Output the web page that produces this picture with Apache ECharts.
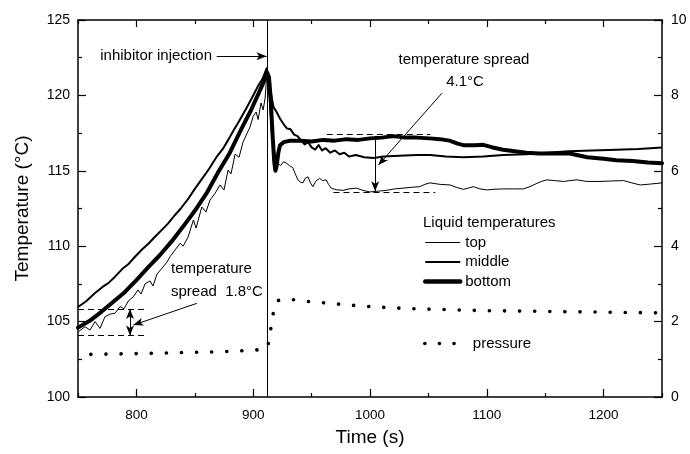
<!DOCTYPE html>
<html><head><meta charset="utf-8">
<script src="https://cdn.jsdelivr.net/npm/echarts@6/dist/echarts.min.js"></script>
<style>html,body{margin:0;padding:0;background:#fff}#c{width:690px;height:454px}</style>
</head><body><div id="c"></div>
<script>
// ---- data ----
const topTime = [750.3,756,760.3,764.6,768.8,773.1,777.4,781.7,786,789.4,793.1,797.4,801.4,804,807.4,811.7,814.2,817.7,822,826.2,828.8,833.1,837.4,840,844.2,848.8,851.1,856,859.6,863,867.3,871.6,875,878.5,881,884.5,887.9,891.3,894.8,897.3,899.9,902.5,904.2,906.7,908.5,910.2,911.8,
  913.5,915.5,918.7,921,923.5,926,928.6,931,934,936,938.3,940.5,942.6,944.5,946.9,949,951.1,953.5,956.8,959.5,962.5,964.5,966.8,971,976.7,982,988.4,994,999.8,1007,1014,1021,1028.3,1035,1042.6,1047,1051.2,1060,1068.6,1074,1080,1084,1088.6,1094,1100,1107,1114.3,1122,1131.4,1137,1142.9,1147,1151.5,1158,1165.7,1171,1177.2,1185,1194.3,1205,1217.1,1224,1231.4,1240,1250];
const topTemp = [104.33,104.66,104.44,105.0,104.55,105.32,105.5,105.55,106.0,105.85,106.37,106.65,107.1,106.83,107.5,107.7,107.36,108.16,108.55,108.95,109.3,109.75,110.2,110.0,110.6,111.74,111.2,112.6,112.27,113.06,113.5,114.06,113.73,115.05,114.8,116.1,115.9,116.9,117.5,117.9,118.6,118.9,118.4,119.5,119.03,119.83,121.55,
  120.0,117.6,116.05,115.5,115.35,115.6,115.5,115.35,115.2,114.8,114.4,114.25,114.2,114.5,114.6,114.2,113.95,114.3,114.5,114.35,114.4,114.1,113.85,113.75,113.7,113.8,113.85,113.7,113.6,113.65,113.7,113.8,113.85,113.9,113.95,114.1,114.2,114.1,114.06,113.9,113.77,113.85,113.95,113.8,113.73,113.78,113.8,113.8,113.8,113.95,114.17,114.3,114.4,114.35,114.29,114.35,114.4,114.3,114.29,114.32,114.35,114.2,114.06,114.12,114.2];

const middleTime = [750,757,764.6,771,776,781.7,788,793,798.8,805,810,815.9,822,827,833.1,838,844,850,856,862,868.5,874,879,883,888,894.5,899,904,908,911.5,
  913,915,917.3,920,923,926,929,932,935,938,941,944,947,950,953,956,959,962,966,970,974,978,982,988,995,1003,1012,1025,1040,1051.5,1065,1080,1097,1114,1134,1151,1170,1190,1211,1230,1250];
const middleTemp = [105.97,106.35,106.9,107.3,107.55,107.98,108.5,108.8,109.3,109.8,110.15,110.63,111.1,111.5,112.07,112.5,113.1,113.8,114.45,115.1,115.9,116.45,117.1,117.65,118.3,119.2,119.85,120.6,121.1,121.8,
  121.3,120.2,119.25,118.9,118.45,118.1,117.8,117.75,117.4,117.3,117.0,116.75,116.9,116.55,116.4,116.7,116.35,116.5,116.2,116.35,116.1,116.2,115.95,116.05,115.9,115.85,115.95,116.0,116.05,116.05,115.95,115.9,115.95,116.05,116.1,116.2,116.3,116.35,116.4,116.45,116.55];

const bottomTime = [750,760,770,780,790,800,810,820,830,840,850,860,870,880,890,898,905,909,912,
  913.5,915,916.5,918,919,920,921.5,923,926,932,940,950,960,970,980,990,1000,1010,1020,1030,1040,1051,1060,1068,1075,1080,1090,1097,1105,1114,1124,1134,1145,1155,1165,1171,1180,1186,1200,1211,1225,1238,1250];
const bottomTemp = [104.6,105.05,105.65,106.3,106.95,107.75,108.6,109.4,110.3,111.3,112.35,113.5,114.9,116.2,117.8,119.0,120.2,120.9,121.5,
  121.2,119.8,117.5,115.6,115.0,115.3,116.2,116.7,116.9,117.0,117.0,116.95,117.05,117.0,117.1,117.05,117.15,117.2,117.3,117.2,117.2,117.15,117.1,117.0,116.8,116.7,116.7,116.72,116.55,116.4,116.3,116.2,116.15,116.15,116.15,116.15,116.0,115.9,115.8,115.7,115.65,115.55,115.5];

const pressureTime = [761,780,800,820,840,860,880,900,910,912.5,914.5,916.5,918.5,920.5,925,935,945,960,975,990,1010,1030,1050,1075,1100,1125,1150,1175,1200,1225,1250];
const pressureValue = [1.13,1.14,1.15,1.16,1.18,1.19,1.21,1.24,1.27,1.33,1.7,2.1,2.45,2.55,2.59,2.58,2.54,2.5,2.46,2.42,2.38,2.35,2.33,2.31,2.29,2.28,2.27,2.26,2.25,2.24,2.23];

const xMajorTicks = [800,900,1000,1100,1200];
const xMinorTicks = [750,850,950,1050,1150,1250];
const injectionTime = 912;

// annotation anchors (data space)
const spreadA = {t0:750, t1:810, hi:105.84, lo:104.07, tArrow:794.5, from:[851.7,106.21], to:[797.4,104.77]};
const spreadB = {hiT:[963,1051.5], loT:[968.7,1055.8], hi:117.4, lo:113.6, tArrow:1004.4, from:[1061.5,120.14], to:[1007.2,115.38]};
const injArrow = {from:[868.8,122.6], to:[911.4,122.6]};

// ---- chart ----
const FONT = '"Liberation Sans", Arial, Helvetica, sans-serif';
const zip = (a,b)=>a.map((v,i)=>[v,b[i]]);
const black = '#000';
const axLine = {show:true, onZero:false, lineStyle:{color:black, width:1.5}};
const tickStyle = {color:black, width:1.2};

const dashed = {color:black, width:1, type:[6,4]};
const solid = {color:black, width:1, type:'solid'};
const ml = (a,b,style,sym)=>[{coord:a, lineStyle:style, symbol:sym[0]},{coord:b, symbol:sym[1]}];

const chart = echarts.init(document.getElementById('c'), null, {renderer:'canvas'});
const legendText = {fontSize:15, fontFamily:FONT, color:black};
const option = {
  animation:false,
  backgroundColor:'#fff',
  color:[black],
  textStyle:{fontFamily:FONT, color:black},
  grid:{left:78, right:28, top:20, bottom:57},
  xAxis:[
    {type:'value', position:'bottom', min:750, max:1250, axisLine:axLine,
     axisTick:{show:true, inside:true, length:8, lineStyle:tickStyle, customValues:xMajorTicks},
     axisLabel:{show:true, customValues:xMajorTicks, formatter:(v)=>String(v), color:black, fontSize:13.5, fontFamily:FONT, margin:11},
     splitLine:{show:false},
     name:'Time (s)', nameLocation:'middle', nameGap:31,
     nameTextStyle:{fontSize:19, fontFamily:FONT, color:black, verticalAlign:'top'}},
    {type:'value', position:'bottom', min:750, max:1250, axisLine:{show:false},
     axisTick:{show:true, inside:true, length:4, lineStyle:tickStyle, customValues:xMinorTicks},
     axisLabel:{show:false}, splitLine:{show:false}},
    {type:'value', position:'top', min:750, max:1250, axisLine:axLine,
     axisTick:{show:true, inside:true, length:7, lineStyle:tickStyle, customValues:xMajorTicks},
     axisLabel:{show:false}, splitLine:{show:false}},
    {type:'value', position:'top', min:750, max:1250, axisLine:{show:false},
     axisTick:{show:true, inside:true, length:4, lineStyle:tickStyle, customValues:xMinorTicks},
     axisLabel:{show:false}, splitLine:{show:false}}
  ],
  yAxis:[
    {type:'value', position:'left', min:100, max:125, interval:5, axisLine:axLine,
     axisTick:{show:true, inside:true, length:8, lineStyle:tickStyle},
     minorTick:{show:true, splitNumber:2, length:4, lineStyle:tickStyle},
     axisLabel:{color:black, fontSize:14, fontFamily:FONT, margin:8},
     splitLine:{show:false}, minorSplitLine:{show:false},
     name:'Temperature (°C)', nameLocation:'middle', nameGap:46, nameRotate:90,
     nameTextStyle:{fontSize:19, fontFamily:FONT, color:black}},
    {type:'value', position:'right', min:0, max:10, interval:2, axisLine:axLine,
     axisTick:{show:true, inside:true, length:8, lineStyle:tickStyle},
     minorTick:{show:true, splitNumber:2, length:4, lineStyle:tickStyle},
     axisLabel:{color:black, fontSize:14, fontFamily:FONT, margin:9},
     splitLine:{show:false}, minorSplitLine:{show:false}}
  ],
  legend:[
    {data:[
       {name:'top', lineStyle:{width:1, color:black}},
       {name:'middle', lineStyle:{width:2, color:black}},
       {name:'bottom', lineStyle:{width:4.5, color:black, cap:'round'}}],
     orient:'vertical', left:423, top:235, padding:0, itemWidth:35, itemHeight:14, itemGap:4.5,
     selectedMode:false, itemStyle:{opacity:0}, textStyle:legendText},
    {data:[{name:'pressure', lineStyle:{width:3.6, color:black, type:[0.1,14.5], cap:'round'}}],
     orient:'vertical', left:423, top:336, padding:0, itemWidth:43, itemHeight:14,
     selectedMode:false, itemStyle:{opacity:0}, textStyle:legendText}
  ],
  series:[
    {name:'pressure', type:'line', yAxisIndex:1, data:zip(pressureTime, pressureValue), symbol:'none',
     itemStyle:{color:black}, lineStyle:{color:black, width:3.6, type:[0.1,15], cap:'round'}, z:2},
    {name:'top', type:'line', data:zip(topTime, topTemp), symbol:'none',
     itemStyle:{color:black}, lineStyle:{color:black, width:1, join:'round'}, z:3},
    {name:'middle', type:'line', data:zip(middleTime, middleTemp), symbol:'none',
     itemStyle:{color:black}, lineStyle:{color:black, width:2, join:'round'}, z:4},
    {name:'bottom', type:'line', data:zip(bottomTime, bottomTemp), symbol:'none',
     itemStyle:{color:black}, lineStyle:{color:black, width:4, join:'round', cap:'round'}, z:5},
    {name:'annotations', type:'line', data:[], z:6,
     markLine:{silent:true, animation:false, symbolSize:[6,10], label:{show:false},
       lineStyle:{color:black, width:1, type:'solid'},
       emphasis:{disabled:true},
       data:[
         ml([injectionTime, 100],[injectionTime, 125], solid, ['none','none']),
         ml(injArrow.from, injArrow.to, solid, ['none','arrow']),
         ml([spreadA.t0, spreadA.hi],[spreadA.t1, spreadA.hi], dashed, ['none','none']),
         ml([spreadA.t0, spreadA.lo],[spreadA.t1, spreadA.lo], dashed, ['none','none']),
         ml([spreadA.tArrow, spreadA.hi],[spreadA.tArrow, spreadA.lo], solid, ['arrow','arrow']),
         ml(spreadA.from, spreadA.to, solid, ['none','arrow']),
         ml([spreadB.hiT[0], spreadB.hi],[spreadB.hiT[1], spreadB.hi], dashed, ['none','none']),
         ml([spreadB.loT[0], spreadB.lo],[spreadB.loT[1], spreadB.lo], dashed, ['none','none']),
         ml([spreadB.tArrow, spreadB.hi-0.1],[spreadB.tArrow, spreadB.lo+0.05], solid, ['none','arrow']),
         ml(spreadB.from, spreadB.to, solid, ['none','arrow'])
       ]}}
  ],
  graphic:[
    {type:'text', silent:true, style:{text:'inhibitor injection', x:212, y:56, align:'right', verticalAlign:'middle', font:'15px '+FONT, fill:black}},
    {type:'text', silent:true, style:{text:'temperature', x:171, y:269, align:'left', verticalAlign:'middle', font:'15px '+FONT, fill:black}},
    {type:'text', silent:true, style:{text:'spread  1.8°C', x:171, y:292, align:'left', verticalAlign:'middle', font:'15px '+FONT, fill:black}},
    {type:'text', silent:true, style:{text:'temperature spread', x:464, y:60, align:'center', verticalAlign:'middle', font:'15px '+FONT, fill:black}},
    {type:'text', silent:true, style:{text:'4.1°C', x:465, y:82, align:'center', verticalAlign:'middle', font:'15px '+FONT, fill:black}},
    {type:'text', silent:true, style:{text:'Liquid temperatures', x:423, y:223, align:'left', verticalAlign:'middle', font:'15px '+FONT, fill:black}}
  ]
};
chart.setOption(option);
</script></body></html>
